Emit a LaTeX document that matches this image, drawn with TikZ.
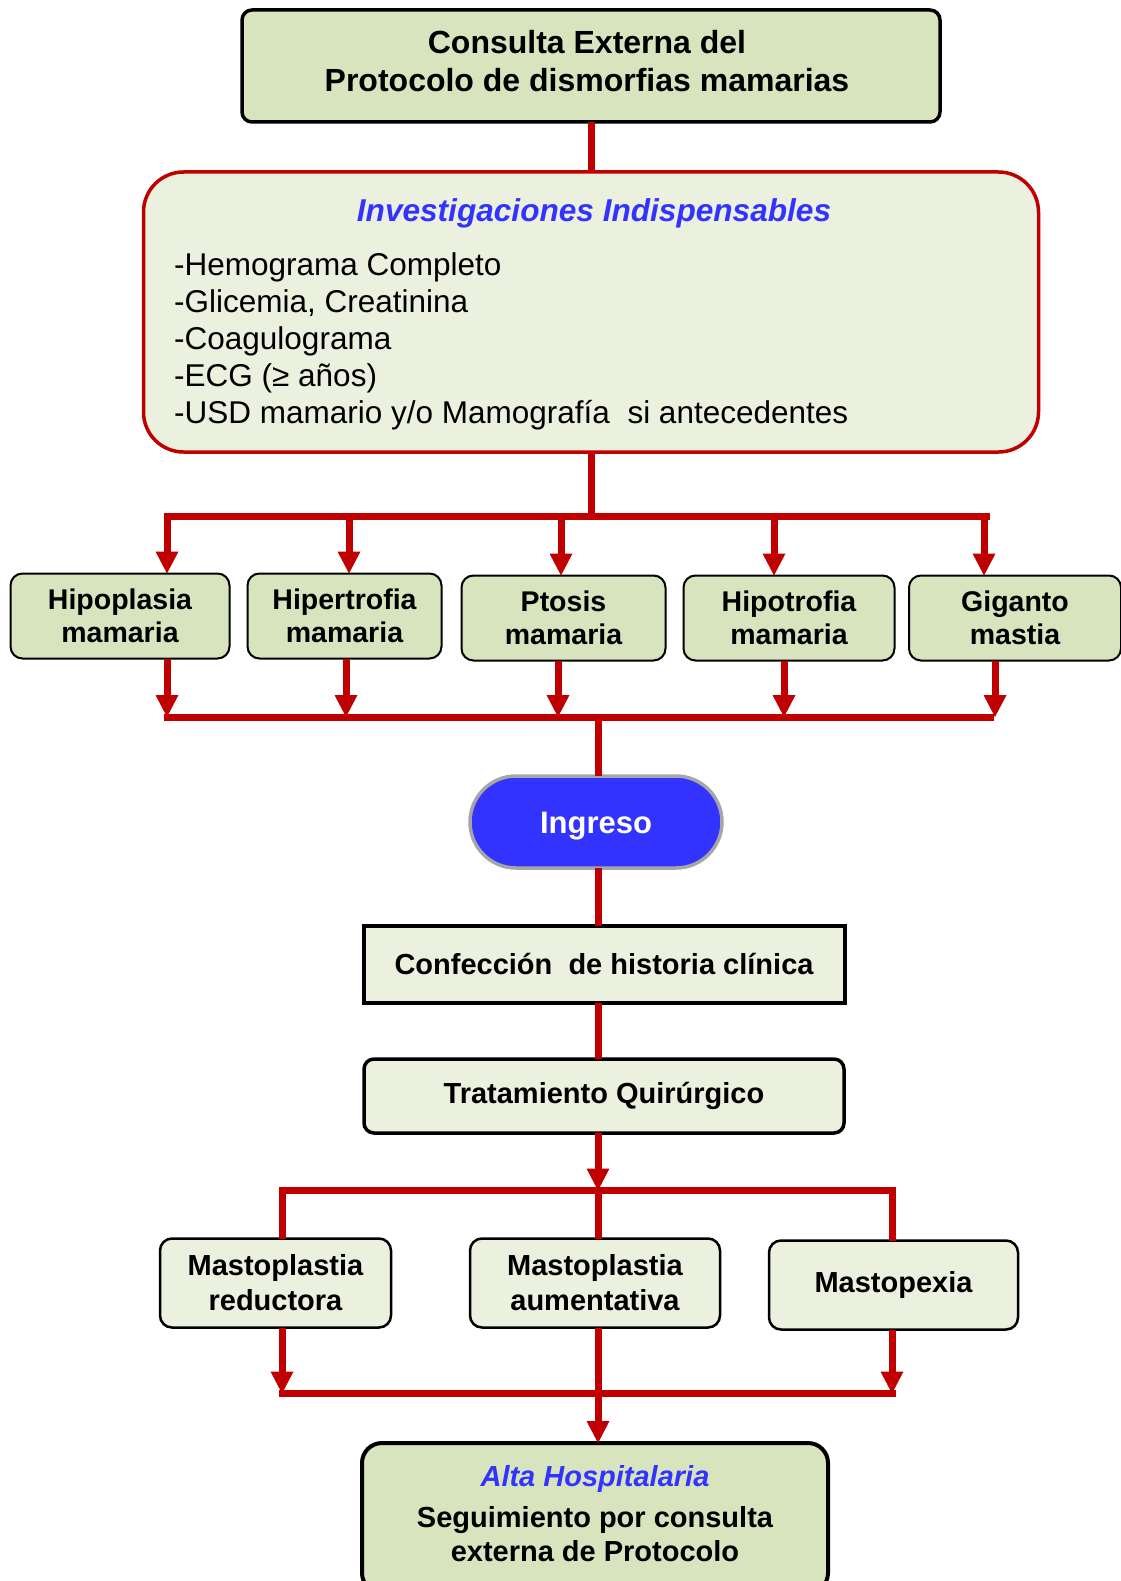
\documentclass[tikz,border=0pt]{standalone}
\usepackage{fontspec}
\setmainfont{Liberation Sans}
\usetikzlibrary{arrows.meta}
\definecolor{dred}{HTML}{C00000}
\definecolor{gfill}{HTML}{D7E4BD}
\definecolor{lfill}{HTML}{EBF1DE}
\definecolor{tblue}{HTML}{3333FF}
\definecolor{ggray}{HTML}{A6A6A6}
\begin{document}
\begin{tikzpicture}[x=1pt,y=-1pt,
  basebox/.style={draw=black, align=center, inner sep=0pt, outer sep=0pt},
  topbox/.style={basebox, fill=gfill, line width=3.5pt, rounded corners=10pt},
  catbox/.style={basebox, fill=gfill, line width=2pt, rounded corners=12pt, minimum height=85pt, font=\fontsize{28.5}{33}\selectfont\bfseries},
  procbox/.style={basebox, fill=lfill, line width=3.5pt, font=\fontsize{29}{35}\selectfont\bfseries},
  opbox/.style={basebox, fill=lfill, line width=2.5pt, rounded corners=12pt, minimum height=89pt, font=\fontsize{29}{35}\selectfont\bfseries},
  rline/.style={draw=dred, line width=7pt},
  rarrow/.style={rline, -{Triangle[width=23pt,length=22pt,line width=0pt]}},
  rbus/.style={rline, line cap=rect}
]
\useasboundingbox (0,0) rectangle (1120,1581);

% nodes
\node[topbox, minimum width=698pt, minimum height=112pt] (top) at (591,66) {};
\node[inner sep=0pt, align=center, font=\fontsize{32}{38}\selectfont\bfseries] (topt) at (587,61)
  {Consulta Externa del\\Protocolo de dismorfias mamarias};
\node[basebox, draw=dred, fill=lfill, line width=3.5pt, rounded corners=40pt,
  minimum width=895pt, minimum height=280pt] (inv) at (591,312) {};
\node[inner sep=0pt, text=tblue, font=\fontsize{31.6}{37}\selectfont\bfseries\itshape] (invh) at (594,213)
  {Investigaciones Indispensables};
\node[inner sep=0pt, anchor=west, align=left, font=\fontsize{31.5}{37}\selectfont] (invl) at (174,341)
  {-Hemograma Completo\\-Glicemia, Creatinina\\-Coagulograma\\-ECG (≥ años)\\-USD mamario y/o Mamografía\ \ si antecedentes};

\node[catbox, minimum width=219pt] (hipo) at (120,616) {Hipoplasia\\mamaria};
\node[catbox, minimum width=194pt] (hiper) at (344.5,616) {Hipertrofia\\mamaria};
\node[catbox, minimum width=204pt] (ptos) at (563.5,618) {Ptosis\\mamaria};
\node[catbox, minimum width=211pt] (hipot) at (789,618) {Hipotrofia\\mamaria};
\node[catbox, minimum width=212pt] (gig) at (1015,618) {Giganto\\mastia};

\node[basebox, draw=ggray, fill=tblue, line width=3.5pt, rounded corners=46pt,
  minimum width=252pt, minimum height=92pt, text=white, text height=22pt, text depth=0pt,
  font=\fontsize{31}{37}\selectfont\bfseries] (ing) at (596,822) {Ingreso};
\node[procbox, line width=4pt, minimum width=481pt, minimum height=77pt] (conf) at (604,964)
  {Confección\ \ de historia clínica};
\node[procbox, rounded corners=10pt, minimum width=480pt, minimum height=74pt] (trat) at (604,1096)
  {Tratamiento Quirúrgico};

\node[opbox, minimum width=231pt] (red) at (275.5,1283) {Mastoplastia\\reductora};
\node[opbox, minimum width=250pt] (aum) at (595,1283) {Mastoplastia\\aumentativa};
\node[opbox, minimum width=249pt] (pex) at (893.5,1285) {Mastopexia};

\node[basebox, fill=gfill, line width=4pt, rounded corners=20pt,
  minimum width=466pt, minimum height=150pt] (alta) at (595,1518) {};
\node[inner sep=0pt, align=center, font=\fontsize{29}{34}\selectfont\bfseries] (altat) at (595,1514)
  {{\color{tblue}\itshape Alta Hospitalaria}\\[7pt]Seguimiento por consulta\\externa de Protocolo};

% junction coordinates
\coordinate (s0) at (591,516);
\coordinate (sL) at (167,516);
\coordinate (sR) at (986,516);
\coordinate (t1) at (167,516);
\coordinate (t2) at (349,516);
\coordinate (t3) at (561,516);
\coordinate (t4) at (774,516);
\coordinate (t5) at (984,516);
\coordinate (uL) at (167,717);
\coordinate (uR) at (990,717);
\coordinate (u1) at (167,717);
\coordinate (u2) at (346,717);
\coordinate (u3) at (558,717);
\coordinate (u4) at (784,717);
\coordinate (u5) at (995,717);
\coordinate (v0) at (598,717);
\coordinate (m0) at (598,1190.5);
\coordinate (mL) at (282,1190.5);
\coordinate (mR) at (892,1190.5);
\coordinate (nL) at (282,1393.5);
\coordinate (nR) at (892,1393.5);

% connectors
\draw[rline] (top.south) -- (inv.north);
\draw[rline] (inv.south) -- (s0);
\foreach \t/\b in {t1/hipo,t2/hiper,t3/ptos,t4/hipot,t5/gig}
  \draw[rarrow] (\t) -- (\t |- \b.north);
\draw[rbus] (sL) -- (sR);

\foreach \u/\b in {u1/hipo,u2/hiper,u3/ptos,u4/hipot,u5/gig}
  \draw[rarrow] (\u |- \b.south) -- (\u);
\draw[rbus] (uL) -- (uR);

\draw[rline] (v0) -- (v0 |- ing.north);
\draw[rline] (v0 |- ing.south) -- (v0 |- conf.north);
\draw[rline] (v0 |- conf.south) -- (v0 |- trat.north);
\draw[rarrow] (v0 |- trat.south) -- (m0);
\draw[rbus] (mL) -- (mR);
\draw[rline] (mL) -- (mL |- red.north);
\draw[rline] (m0) -- (m0 |- aum.north);
\draw[rline] (mR) -- (mR |- pex.north);

\draw[rarrow] (nL |- red.south) -- (nL);
\draw[rarrow] (nR |- pex.south) -- (nR);
\draw[rbus] (nL) -- (nR);
\draw[rarrow] (m0 |- aum.south) -- (m0 |- alta.north);
\end{tikzpicture}
\end{document}
